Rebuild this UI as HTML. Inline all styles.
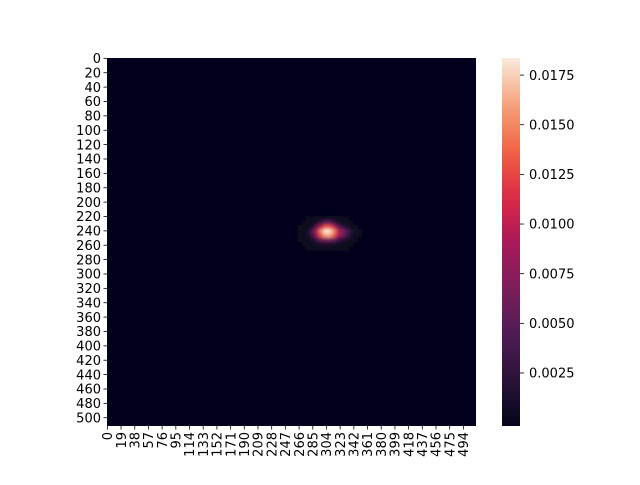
<!DOCTYPE html>
<html><head><meta charset="utf-8"><style>
body{margin:0;background:#fff}
svg text{font-family:"DejaVu Sans","Liberation Sans",sans-serif;font-size:13px;fill:#000}
</style></head><body>
<svg id="chart" width="640" height="480" viewBox="0 0 640 480" xmlns="http://www.w3.org/2000/svg">
<defs>
<clipPath id="pc"><rect x="107" y="58" width="369" height="368"/></clipPath>
<filter id="bl" filterUnits="userSpaceOnUse" x="107" y="58" width="369" height="368"><feGaussianBlur stdDeviation="1.5"/></filter>
<linearGradient id="cbg" x1="0" y1="1" x2="0" y2="0"></linearGradient>
</defs>
<rect x="107" y="58" width="369" height="368" fill="#03051a"/>
<g id="cells" clip-path="url(#pc)"><g id="cellsInner" filter="url(#bl)"><rect x="107" y="58" width="369" height="368" fill="#03051a"/></g></g>
<g id="yaxis"></g><g id="xaxis"></g>
<rect x="502" y="58" width="18" height="368" fill="url(#cbg)"/>
<g id="cbaxis"></g>
</svg>
<script>
const NS="http://www.w3.org/2000/svg";
// data: blob region (values x1e-3); grid origin (data units) and cell size
const gridX0=264, gridY0=220, cellSize=6;
const blobValues=[
[0,0,0.1,0.2,0.3,0.5,0.7,0.7,0.5,0.3,0.2,0.1,0,0,0,0],
[0,0.1,0.2,0.4,0.8,2.5,5,5,2.5,1,0.5,0.3,0.1,0,0,0],
[0.1,0.2,0.5,1.2,5,10,13,13,10,5,2.5,1.2,0.5,0.2,0,0],
[0.2,0.4,1,4,10,15,18.4,18,15,10,7,4.5,2,0.6,0.2,0],
[0.2,0.4,1,3,8,13,16,16,13,9,6,3.5,1.5,0.4,0.1,0],
[0.1,0.3,0.5,1.2,3,5,6,6,5,3,1.8,1,0.4,0.1,0,0],
[0,0.1,0.3,0.5,0.8,1.2,1.4,1.3,1,0.6,0.4,0.2,0.1,0,0,0],
[0,0,0.1,0.2,0.3,0.4,0.4,0.4,0.3,0.2,0.1,0.1,0,0,0,0]
];
const xTicks=[0,19,38,57,76,95,114,133,152,171,190,209,228,247,266,285,304,323,342,361,380,399,418,437,456,475,494];
const yTicks=[0,20,40,60,80,100,120,140,160,180,200,220,240,260,280,300,320,340,360,380,400,420,440,460,480,500];
const cbTicks=[0.0025,0.0050,0.0075,0.0100,0.0125,0.0150,0.0175];
const nCols=512,nRows=512,vmin=-0.00017,vmax=0.01836;
const px0=107,py0=58,pw=369,ph=368;
const xs=d=>px0+d*pw/nCols, ys=d=>py0+d*ph/nRows;
const cbY=v=>426-(v-vmin)/(vmax-vmin)*368;
const stops=[[0,[3,5,26]],[0.12,[40,18,54]],[0.25,[79,28,85]],[0.38,[125,30,90]],[0.5,[170,25,90]],[0.62,[220,40,70]],[0.74,[241,96,67]],[0.86,[245,155,114]],[1,[250,235,221]]];
function cmap(t){t=Math.max(0,Math.min(1,t));for(let i=1;i<stops.length;i++){if(t<=stops[i][0]){const a=stops[i-1],b=stops[i],f=(t-a[0])/(b[0]-a[0]);return 'rgb('+a[1].map((c,k)=>Math.round(c+(b[1][k]-c)*f)).join(',')+')';}}return 'rgb(250,235,221)';}
function mk(tag,attrs,parent){const e=document.createElementNS(NS,tag);for(const k in attrs)e.setAttribute(k,attrs[k]);parent.appendChild(e);return e;}
const g=document.getElementById('cellsInner');
blobValues.forEach((row,r)=>row.forEach((v,c)=>{
 const val=v*1e-3; if(val<=0)return;
 const x=xs(gridX0+c*cellSize),y=ys(gridY0+r*cellSize);
 const e=mk('rect',{x:x,y:y,width:xs(cellSize)-px0+0.3,height:ys(cellSize)-py0+0.3,fill:cmap((val-vmin)/(vmax-vmin))},g);
 
 
}));
const ya=document.getElementById('yaxis');
yTicks.forEach(t=>{const y=ys(t+0.5);
 const l=mk('line',{x1:103.5,x2:107,y1:y,y2:y,stroke:'#000','stroke-width':0.8},ya);
 
 const tx=mk('text',{x:101,y:y+4.7,'text-anchor':'end'},ya);tx.textContent=t;
 });
const xa=document.getElementById('xaxis');
xTicks.forEach(t=>{const x=xs(t+0.5);
 const l=mk('line',{x1:x,x2:x,y1:426,y2:429.5,stroke:'#000','stroke-width':0.8},xa);
 
 const tx=mk('text',{x:0,y:0,'text-anchor':'end',transform:'translate('+(x+4.7)+',432) rotate(-90)'},xa);tx.textContent=t;
 });
const gr=document.querySelector('#cbg');
for(let i=0;i<=20;i++){mk('stop',{offset:(i/20),'stop-color':cmap(i/20)},gr);}
const ca=document.getElementById('cbaxis');
cbTicks.forEach(t=>{const y=cbY(t);
 const l=mk('line',{x1:520,x2:524,y1:y,y2:y,stroke:'#000','stroke-width':0.8},ca);
 
 const tx=mk('text',{x:529,y:y+4.7},ca);tx.textContent=t.toFixed(4);
 });
</script>
</body></html>
